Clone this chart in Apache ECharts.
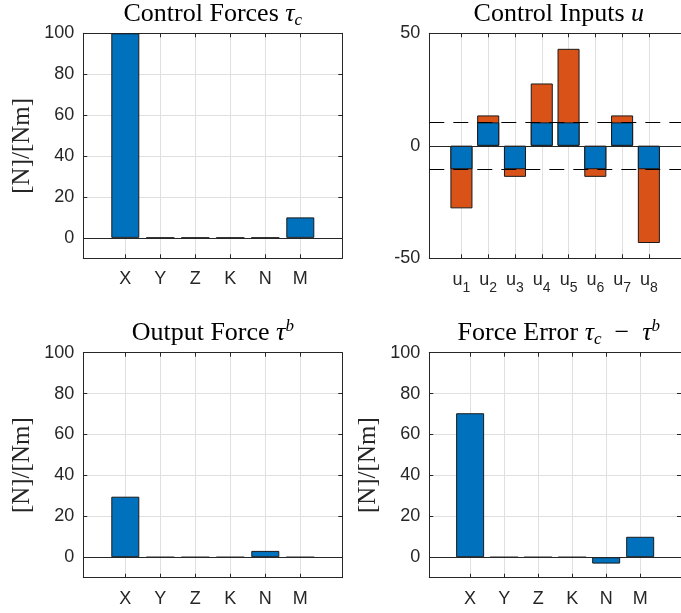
<!DOCTYPE html>
<html><head><meta charset="utf-8">
<script src="https://cdn.jsdelivr.net/npm/echarts@6/dist/echarts.min.js"></script>
<style>html,body{margin:0;padding:0;background:#fff}#c{width:681px;height:613px}</style>
</head><body><div id="c"></div>
<script>
// ---- data ----
const forceCats = ['X', 'Y', 'Z', 'K', 'N', 'M'];
const inputCats = ['1', '2', '3', '4', '5', '6', '7', '8'];
const controlForces = [100, 0, 0, 0, 0, 10];
const outputForce = [29.6, 0, 0, 0, 3.1, 0];
const forceError = [70.4, 0, 0, 0, -3.1, 10];
const inputsFull = [-27.8, 13.5, -13.8, 27.7, 43.1, -13.8, 13.5, -43.2];
const inputsSat = [-10.4, 10.4, -10.4, 10.4, 10.4, -10.4, 10.4, -10.4];
const satLimit = 10.4;
const forceTicks = [0, 20, 40, 60, 80, 100];
const inputTicks = [-50, 0, 50];

// ---- style ----
const AX = '#262626', GRIDC = '#e0e0e0', BLUE = '#0072BD', ORANGE = '#D95319';
const SANS = 'Liberation Sans', SERIF = 'Liberation Serif';
const TICKF = 18, TITLEF = 26, YLABF = 25;
const PW = 259, PH = 225;

const panels = [
  { left: 83.3, top: 33.3, cats: forceCats, yMin: -10, yMax: 100, ticks: forceTicks, ylab: true },
  { left: 429.3, top: 33.3, cats: inputCats, yMin: -50, yMax: 50, ticks: inputTicks, ylab: false, sub: true },
  { left: 83.3, top: 352.7, cats: forceCats, yMin: -10, yMax: 100, ticks: forceTicks, ylab: true },
  { left: 429.3, top: 352.7, cats: forceCats, yMin: -10, yMax: 100, ticks: forceTicks, ylab: true }
];

const grid = [], xAxis = [], yAxis = [], series = [];
panels.forEach((p, i) => {
  const n = p.cats.length;
  const pos = p.cats.map((c, j) => j + 1);
  const xmin = 1 - 1.2, xmax = n + 1.2;
  p.pos = pos;
  p.barW = 0.8 * PW / (xmax - xmin);
  grid.push({ left: p.left, top: p.top, width: PW, height: PH, containLabel: false });
  const lineS = { color: AX, width: 1 };
  xAxis.push({
    type: 'value', gridIndex: i, min: xmin, max: xmax, position: 'bottom',
    axisLine: { show: true, onZero: false, lineStyle: lineS },
    axisTick: { show: true, inside: true, length: 4, customValues: pos, lineStyle: lineS },
    axisLabel: {
      customValues: pos, color: AX, fontFamily: SANS, fontSize: TICKF, margin: p.sub ? 7 : 12,
      formatter: v => {
        const k = Math.round(v) - 1;
        return p.sub ? '{u|u}{s|' + p.cats[k] + '}' : p.cats[k];
      },
      rich: {
        u: { fontFamily: SANS, fontSize: TICKF, color: AX, lineHeight: 30 },
        s: { fontFamily: SANS, fontSize: 14, color: AX, lineHeight: 13, verticalAlign: 'bottom' }
      }
    },
    splitLine: { show: true, lineStyle: { color: GRIDC, width: 1 } }
  });
  xAxis.push({
    type: 'value', gridIndex: i, min: xmin, max: xmax, position: 'top',
    axisLine: { show: true, onZero: false, lineStyle: lineS },
    axisTick: { show: true, inside: true, length: 4, customValues: pos, lineStyle: lineS },
    axisLabel: { show: false }, splitLine: { show: false }
  });
  yAxis.push({
    type: 'value', gridIndex: i, min: p.yMin, max: p.yMax, position: 'left',
    axisLine: { show: true, onZero: false, lineStyle: lineS },
    axisTick: { show: true, inside: true, length: 4, customValues: p.ticks, lineStyle: lineS },
    axisLabel: { customValues: p.ticks, color: AX, fontFamily: SANS, fontSize: TICKF, margin: 9, padding: [4, 0, 0, 0] },
    splitLine: { show: true, lineStyle: { color: GRIDC, width: 1 } },
    name: p.ylab ? '[N]/[Nm]' : '', nameLocation: 'middle', nameGap: 48, nameRotate: 90,
    nameTextStyle: { fontFamily: SERIF, fontSize: YLABF, color: AX }
  });
  yAxis.push({
    type: 'value', gridIndex: i, min: p.yMin, max: p.yMax, position: 'right',
    axisLine: { show: true, onZero: false, lineStyle: lineS },
    axisTick: { show: true, inside: true, length: 4, customValues: p.ticks, lineStyle: lineS },
    axisLabel: { show: false }, splitLine: { show: false }
  });
});

function baseLine(extra) {
  const data = [{ yAxis: 0, lineStyle: { color: AX, type: 'solid', width: 1 } }];
  (extra || []).forEach(v => data.push({ yAxis: v, lineStyle: { color: '#000', type: [15, 9], width: 1 } }));
  return { symbol: ['none', 'none'], silent: true, label: { show: false }, data: data, animation: false };
}
function barSeries(i, vals, color, extra) {
  const p = panels[i];
  return {
    type: 'bar', xAxisIndex: 2 * i, yAxisIndex: 2 * i, barWidth: p.barW, barGap: '-100%',
    data: vals.map((v, j) => [p.pos[j], v]),
    itemStyle: { color: color, borderColor: '#1a1a1a', borderWidth: 1 },
    markLine: extra === null ? undefined : baseLine(extra)
  };
}
series.push(barSeries(0, controlForces, BLUE, []));
series.push(barSeries(1, inputsFull, ORANGE, null));
series.push(barSeries(1, inputsSat, BLUE, [satLimit, -satLimit]));
series.push(barSeries(2, outputForce, BLUE, []));
series.push(barSeries(3, forceError, BLUE, []));

const titleRich = {
  m: { fontFamily: SERIF, fontSize: TITLEF, color: '#000', lineHeight: 30 },
  t: { fontFamily: SERIF, fontStyle: 'italic', fontSize: TITLEF, color: '#000', lineHeight: 30 },
  s: { fontFamily: SERIF, fontStyle: 'italic', fontSize: 17, color: '#000', lineHeight: 18.6, verticalAlign: 'bottom' },
  p: { fontFamily: SERIF, fontStyle: 'italic', fontSize: 17, color: '#000', lineHeight: 21.4, verticalAlign: 'top' }
};
const titles = [
  { x: 212.8, y: 13.9, text: '{m|Control Forces }{t|τ}{s|c}' },
  { x: 558.8, y: 13.9, text: '{m|Control Inputs }{t|u}' },
  { x: 212.8, y: 333.2, text: '{m|Output Force }{t|τ}{p|b}' },
  { x: 558.8, y: 333.2, text: '{m|Force Error }{t|τ}{s|c}{m|  −  }{t|τ}{p|b}' }
];

const chart = echarts.init(document.getElementById('c'), null, { renderer: 'canvas' });
chart.setOption({
  animation: false,
  backgroundColor: '#fff',
  grid, xAxis, yAxis, series,
  graphic: titles.map(t => ({
    type: 'text', x: t.x, y: t.y, silent: true,
    style: { text: t.text, rich: titleRich, align: 'center', verticalAlign: 'middle', fill: '#000',
             font: TITLEF + 'px ' + SERIF }
  }))
});
</script></body></html>
